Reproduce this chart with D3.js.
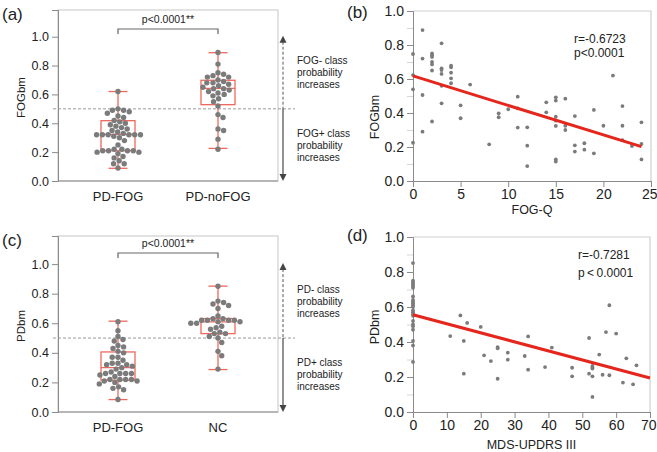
<!DOCTYPE html>
<html><head><meta charset="utf-8">
<script src="https://cdn.jsdelivr.net/npm/d3@7"></script>
<style>body{margin:0;background:#fff}svg{display:block}text{font-family:"Liberation Sans",Arial,sans-serif}</style>
</head><body><svg id="c" width="657" height="452"></svg>
<script>
// ---------- DATA ----------
const catsA = ["PD-FOG", "PD-noFOG"];
const fogbmPDFOG = [0.62,0.50,0.49,0.49,0.48,0.47,0.45,0.44,0.42,0.41,0.40,0.39,0.38,0.37,0.36,0.35,0.34,0.33,0.32,0.32,0.32,0.32,0.32,0.32,0.31,0.30,0.28,0.25,0.22,0.22,0.21,0.21,0.21,0.21,0.20,0.20,0.19,0.17,0.16,0.14,0.12,0.12,0.09];
const fogbmPDnoFOG = [0.89,0.81,0.75,0.74,0.73,0.72,0.72,0.70,0.69,0.68,0.68,0.67,0.66,0.65,0.64,0.64,0.63,0.62,0.61,0.60,0.59,0.57,0.55,0.52,0.46,0.44,0.36,0.35,0.29,0.22];
const boxAmin = [0.088, 0.226], boxAq1 = [0.21, 0.529], boxAmed = [0.323, 0.642], boxAq3 = [0.418, 0.698], boxAmax = [0.62, 0.889];

const catsC = ["PD-FOG", "NC"];
const pdbmPDFOG = [0.61,0.55,0.51,0.49,0.48,0.45,0.44,0.43,0.41,0.40,0.37,0.37,0.35,0.33,0.33,0.32,0.32,0.31,0.30,0.29,0.27,0.26,0.26,0.26,0.26,0.25,0.24,0.22,0.22,0.22,0.22,0.21,0.21,0.20,0.19,0.17,0.16,0.15,0.085];
const pdbmNC = [0.85,0.75,0.74,0.73,0.72,0.70,0.65,0.63,0.63,0.62,0.62,0.62,0.62,0.61,0.61,0.60,0.60,0.58,0.57,0.56,0.54,0.53,0.53,0.51,0.50,0.47,0.41,0.38,0.29];
const boxCmin = [0.084, 0.287], boxCq1 = [0.215, 0.53], boxCmed = [0.30, 0.609], boxCq3 = [0.406, 0.632], boxCmax = [0.614, 0.851];

const yTicksBox = [0.0, 0.2, 0.4, 0.6, 0.8, 1.0];

const fogQ = [0,0,0,0, 1,1,1,1, 2,2,2,2,2,2,2, 3,3,3,3,3,3, 4,4,4,4,4, 5,5, 6, 8, 9,9, 10, 11,11,11, 12,12,12, 14,14, 15,15,15,15,15,15,15, 16,16,16, 17,17,17, 18,18, 19,19, 20, 21, 22,22,22, 23, 24,24,24];
const fogbmB = [0.747,0.623,0.539,0.225, 0.888,0.72,0.506,0.29, 0.75,0.74,0.73,0.70,0.686,0.65,0.35, 0.81,0.663,0.653,0.63,0.56,0.457, 0.678,0.669,0.637,0.604,0.575, 0.445,0.369, 0.567, 0.216, 0.398,0.375, 0.422, 0.496,0.427,0.314, 0.316,0.208,0.088, 0.463,0.404, 0.492,0.473,0.378,0.355,0.324,0.127,0.114, 0.484,0.325,0.30, 0.382,0.21,0.173, 0.222,0.184, 0.418,0.163, 0.325, 0.62, 0.441,0.325,0.241, 0.206, 0.345,0.218,0.127];
const fitBx = [0, 24], fitBy = [0.618, 0.202];
const xTicksB = [0, 5, 10, 15, 20, 25];

const updrs = [0,0,0,0,0,0,0,0,0,0,0,0,0,0,0,0,0,0,0,0,0,0,0, 11,14,15,15,16,20,21,23,25,25,25,28,28,33,34,34,39,41,47,47,52,52,53,53,53,53,53,55,56,57,58,58,60,62,63,65,66];
const pdbmD = [0.851,0.75,0.74,0.73,0.72,0.71,0.66,0.64,0.62,0.61,0.60,0.58,0.57,0.56,0.55,0.52,0.50,0.49,0.47,0.406,0.38,0.286,0.63, 0.434,0.552,0.406,0.219,0.509,0.486,0.324,0.291,0.371,0.364,0.19,0.339,0.299,0.32,0.432,0.242,0.257,0.368,0.253,0.204,0.423,0.219,0.263,0.255,0.248,0.204,0.086,0.328,0.213,0.457,0.61,0.21,0.448,0.168,0.307,0.158,0.267];
const fitDx = [0, 70], fitDy = [0.556, 0.194];
const xTicksD = [0, 10, 20, 30, 40, 50, 60, 70];
const yTicksScatter = [0.0, 0.2, 0.4, 0.6, 0.8, 1.0];

// ---------- DRAW ----------
const svg = d3.select("#c");
const DOT = "#7b7b7b", BOXC = "#f0675c", FIT = "#e5261c", AX = "#8a8a8a", FRAME = "#cfcfcf", TXT = "#222";

function swarm(vals, y, r) {
  const items = vals.map(v => ({v, y: y(v)})).sort((a, b) => a.y - b.y);
  const placed = [];
  const d = 2 * r + 0.4;
  items.forEach(it => {
    const cands = [0];
    placed.forEach(p => {
      const dy = Math.abs(p.y - it.y);
      if (dy < d) { const dx = Math.sqrt(d * d - dy * dy); cands.push(p.x + dx, p.x - dx); }
    });
    cands.sort((a, b) => Math.abs(a) - Math.abs(b));
    for (const c of cands) {
      if (placed.every(p => (p.x - c) ** 2 + (p.y - it.y) ** 2 >= d * d - 0.01)) { it.x = c; break; }
    }
    placed.push(it);
  });
  return placed;
}

function boxPanel(o) {
  const g = svg.append("g");
  const x = d3.scalePoint().domain(o.cats).range([o.L, o.R]).padding(0.6);
  const y = d3.scaleLinear().domain([0, o.ymax]).range([o.B, o.T]);
  g.append("rect").attr("x", o.L).attr("y", o.T).attr("width", o.R - o.L).attr("height", o.B - o.T)
    .attr("fill", "none").attr("stroke", FRAME).attr("stroke-width", 1.2);
  const ya = d3.axisLeft(y).tickValues(yTicksBox).tickFormat(d3.format(".1f")).tickSize(6).tickPadding(3);
  const yg = g.append("g").attr("transform", `translate(${o.L},0)`).call(ya);
  yg.select(".domain").attr("stroke", AX);
  yg.selectAll(".tick line").attr("stroke", AX);
  yg.selectAll("text").attr("font-size", 12.5).attr("fill", TXT).attr("font-family", "Liberation Sans, Arial");
  g.append("line").attr("x1", o.L).attr("x2", o.R).attr("y1", o.B).attr("y2", o.B).attr("stroke", AX).attr("stroke-width", 1.2);
  o.cats.forEach(c => g.append("text").attr("x", x(c)).attr("y", o.B + 20).attr("text-anchor", "middle")
    .attr("font-size", 13).attr("fill", TXT).text(c));
  g.append("text").attr("transform", `translate(${o.L - 33},${(o.T + o.B) / 2 + 2}) rotate(-90)`)
    .attr("text-anchor", "middle").attr("font-size", 11.5).attr("fill", TXT).text(o.ylab);
  g.append("text").attr("x", 2).attr("y", o.T + 10).attr("font-size", 17).attr("fill", TXT).text(o.tag);
  g.append("line").attr("x1", o.L - 5).attr("x2", o.R + 17).attr("y1", y(0.5)).attr("y2", y(0.5))
    .attr("stroke", "#999").attr("stroke-width", 1).attr("stroke-dasharray", "3,2");
  const bw = 34, cw = 19;
  o.cats.forEach((c, i) => {
    const cx = x(c);
    const ln = (x1, y1, x2, y2) => g.append("line").attr("x1", x1).attr("y1", y1).attr("x2", x2).attr("y2", y2).attr("stroke", BOXC).attr("stroke-width", 1.3);
    ln(cx, y(o.max[i]), cx, y(o.q3[i]));
    ln(cx, y(o.q1[i]), cx, y(o.min[i]));
    ln(cx - cw / 2, y(o.max[i]), cx + cw / 2, y(o.max[i]));
    ln(cx - cw / 2, y(o.min[i]), cx + cw / 2, y(o.min[i]));
    g.append("rect").attr("x", cx - bw / 2).attr("y", y(o.q3[i])).attr("width", bw).attr("height", y(o.q1[i]) - y(o.q3[i]))
      .attr("fill", "none").attr("stroke", BOXC).attr("stroke-width", 1.3);
    ln(cx - bw / 2, y(o.med[i]), cx + bw / 2, y(o.med[i]));
    const sw = swarm(o.series[i], y, 2.7);
    g.selectAll(null).data(sw).join("circle").attr("cx", d => cx + d.x).attr("cy", d => d.y).attr("r", 2.7).attr("fill", DOT);
  });
  const by = o.T + o.brk;
  const x0 = x(o.cats[0]), x1 = x(o.cats[1]);
  g.append("path").attr("d", `M${x0},${by + 5}V${by}H${x1}V${by + 5}`).attr("fill", "none").attr("stroke", "#666").attr("stroke-width", 1.2);
  g.append("text").attr("x", (x0 + x1) / 2).attr("y", by - 6).attr("text-anchor", "middle").attr("font-size", 10.5).attr("fill", TXT).text("p<0.0001**");
  const ax = o.R + 5;
  g.append("line").attr("x1", ax).attr("x2", ax).attr("y1", y(1.0) + 5).attr("y2", y(0.5)).attr("stroke", "#555").attr("stroke-width", 1).attr("stroke-dasharray", "3,2");
  g.append("line").attr("x1", ax).attr("x2", ax).attr("y1", y(0.5)).attr("y2", o.B - 4).attr("stroke", "#555").attr("stroke-width", 1.3);
  g.append("path").attr("d", `M${ax},${y(1.0) - 1}l-3.5,7h7z`).attr("fill", "#444");
  g.append("path").attr("d", `M${ax},${o.B}l-3.5,-7h7z`).attr("fill", "#444");
  const tx = o.R + 19;
  o.upText.forEach((t, k) => g.append("text").attr("x", tx).attr("y", y(0.5) - 45 + k * 12).attr("font-size", 10).attr("fill", TXT).text(t));
  o.dnText.forEach((t, k) => g.append("text").attr("x", tx).attr("y", y(0.5) + 28 + k * 12).attr("font-size", 10).attr("fill", TXT).text(t));
}

function scatterPanel(o) {
  const g = svg.append("g");
  const x = d3.scaleLinear().domain(o.xdom).range([o.L, o.R]);
  const y = d3.scaleLinear().domain([0, 1]).range([o.B, o.T]);
  g.append("path").attr("d", `M${o.L},${o.T}H${o.R}V${o.B}`).attr("fill", "none").attr("stroke", FRAME).attr("stroke-width", 1.2);
  const isMajor = d => yTicksScatter.some(t => Math.abs(t - d) < 1e-6);
  const ya = d3.axisLeft(y).tickValues(d3.range(0, 1.001, 0.1)).tickFormat(d => isMajor(d) ? d3.format(".1f")(d) : "").tickSize(6).tickPadding(3);
  const yg = g.append("g").attr("transform", `translate(${o.L},0)`).call(ya);
  yg.select(".domain").attr("stroke", AX);
  yg.selectAll(".tick line").attr("stroke", d => isMajor(d) ? AX : "#d5d5d5");
  yg.selectAll("text").attr("font-size", 14).attr("fill", TXT).attr("font-family", "Liberation Sans, Arial");
  const xa = d3.axisBottom(x).tickValues(o.xticks).tickFormat(d3.format("d")).tickSize(6).tickPadding(2);
  const xg = g.append("g").attr("transform", `translate(0,${o.B})`).call(xa);
  xg.select(".domain").attr("stroke", AX);
  xg.selectAll(".tick line").attr("stroke", AX);
  xg.selectAll("text").attr("font-size", 14).attr("fill", TXT).attr("font-family", "Liberation Sans, Arial");
  // keep the last tick label inside the canvas
  xg.selectAll("text").filter(d => d === o.xdom[1]).attr("text-anchor", "end").attr("dx", 6);
  g.selectAll(null).data(o.xs).join("circle").attr("cx", d => x(d)).attr("cy", (d, i) => y(o.ys[i])).attr("r", 1.9).attr("fill", DOT);
  g.append("line").attr("x1", x(o.fx[0])).attr("y1", y(o.fy[0])).attr("x2", x(o.fx[1])).attr("y2", y(o.fy[1]))
    .attr("stroke", FIT).attr("stroke-width", 3);
  g.append("text").attr("transform", `translate(${o.L - 34},${o.ylabY}) rotate(-90)`).attr("text-anchor", "middle").attr("font-size", 12.5).attr("fill", TXT).text(o.ylab);
  g.append("text").attr("x", (o.L + o.R) / 2).attr("y", o.xlabY).attr("text-anchor", "middle").attr("font-size", 12.5).attr("fill", TXT).text(o.xlab);
  g.append("text").attr("x", 347).attr("y", o.tagY).attr("font-size", 17).attr("fill", TXT).text(o.tag);
  o.stat.forEach((t, k) => g.append("text").attr("x", o.statX).attr("y", o.statY + k * o.statDy).attr("font-size", 12).attr("fill", TXT).text(t));
}

boxPanel({cats: catsA, L: 58, R: 278, T: 10, B: 181, ymax: 1.185, series: [fogbmPDFOG, fogbmPDnoFOG],
  min: boxAmin, q1: boxAq1, med: boxAmed, q3: boxAq3, max: boxAmax, ylab: "FOGbm", tag: "(a)", brk: 19,
  upText: ["FOG- class", "probability", "increases"], dnText: ["FOG+ class", "probability", "increases"]});
boxPanel({cats: catsC, L: 58, R: 278, T: 236, B: 412, ymax: 1.19, series: [pdbmPDFOG, pdbmNC],
  min: boxCmin, q1: boxCq1, med: boxCmed, q3: boxCq3, max: boxCmax, ylab: "PDbm", tag: "(c)", brk: 17,
  upText: ["PD- class", "probability", "increases"], dnText: ["PD+ class", "probability", "increases"]});
scatterPanel({L: 413, R: 651, T: 11, B: 181, xdom: [0, 25], xticks: xTicksB, xs: fogQ, ys: fogbmB, fx: fitBx, fy: fitBy,
  ylab: "FOGbm", ylabY: 117, xlab: "FOG-Q", xlabY: 214, tag: "(b)", tagY: 18, stat: ["r=-0.6723", "p<0.0001"], statX: 574, statY: 43, statDy: 14});
scatterPanel({L: 413, R: 650, T: 237, B: 412, xdom: [0, 70], xticks: xTicksD, xs: updrs, ys: pdbmD, fx: fitDx, fy: fitDy,
  ylab: "PDbm", ylabY: 327, xlab: "MDS-UPDRS III", xlabY: 449, tag: "(d)", tagY: 241, stat: ["r=-0.7281", "p\u2009<\u20090.0001"], statX: 578, statY: 259, statDy: 18});
</script></body></html>
